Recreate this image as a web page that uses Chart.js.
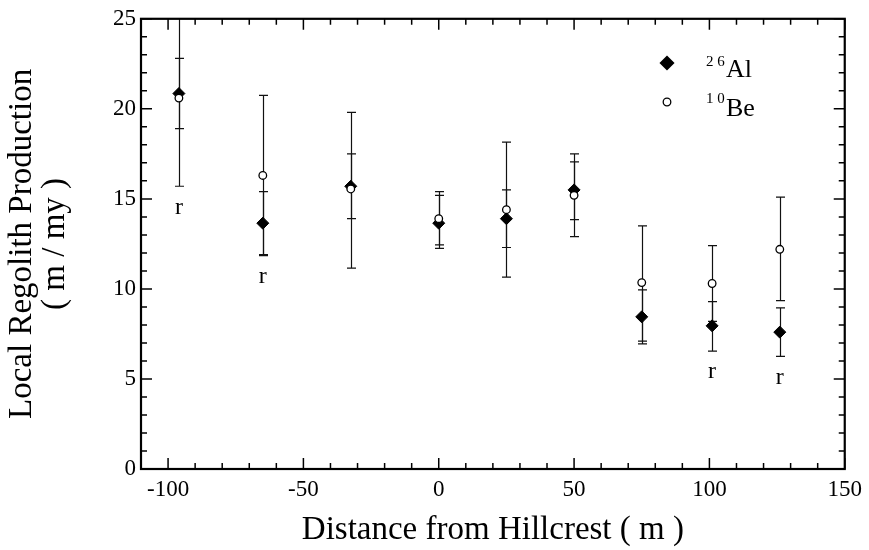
<!DOCTYPE html>
<html>
<head>
<meta charset="utf-8">
<script src="https://cdn.jsdelivr.net/npm/chart.js@4"></script>
<style>
  html, body { margin: 0; padding: 0; background: #fff; }
  canvas { display: block; background: #fff; }
</style>
</head>
<body>
<canvas id="chart" width="869" height="550"></canvas>
<script>
// distance from hillcrest (m)
var distance = [-96, -65, -32.5, 0, 25, 50, 75, 101, 126];

// 26Al production rate and error bar ends
var al26 = [20.85, 13.65, 15.7, 13.65, 13.9, 15.5, 8.45, 7.95, 7.6];
var al26Hi = [22.8, 15.4, 17.5, 15.2, 15.5, 17.05, 9.95, 9.3, 8.95];
var al26Lo = [18.9, 11.9, 13.9, 12.25, 12.3, 13.85, 6.95, 6.55, 6.25];

// 10Be production rate and error bar ends
var be10 = [20.6, 16.3, 15.55, 13.9, 14.4, 15.2, 10.35, 10.3, 12.2];
var be10Hi = [25.5, 20.75, 19.8, 15.4, 18.15, 17.5, 13.5, 12.4, 15.1];
var be10Lo = [15.7, 11.85, 11.15, 12.45, 10.65, 12.9, 7.1, 8.2, 9.35];

// sample notes printed under the bars
var remarks = ['r', 'r', '', '', '', '', '', 'r', 'r'];

var xTicks = [-100, -50, 0, 50, 100, 150];
var yTicks = [0, 5, 10, 15, 20, 25];

var serif = '"Liberation Serif", "DejaVu Serif", serif';

function toPoints(xs, ys) {
    return xs.map(function (v, i) { return { x: v, y: ys[i] }; });
}

// error bars, drawn under the markers
var errorBars = {
    id: 'errorBars',
    beforeDatasetsDraw: function (chart) {
        var ctx = chart.ctx, a = chart.chartArea;
        var x = chart.scales.x, y = chart.scales.y;
        var sets = [[al26Hi, al26Lo], [be10Hi, be10Lo]];
        ctx.save();
        ctx.beginPath();
        ctx.rect(a.left, a.top, a.right - a.left, a.bottom - a.top);
        ctx.clip();
        ctx.strokeStyle = '#111';
        ctx.lineWidth = 1.2;
        sets.forEach(function (s) {
            distance.forEach(function (d, i) {
                var px = Math.round(x.getPixelForValue(d)) + 0.5;
                var top = y.getPixelForValue(s[0][i]);
                var bot = y.getPixelForValue(s[1][i]);
                ctx.beginPath();
                ctx.moveTo(px, top);
                ctx.lineTo(px, bot);
                ctx.moveTo(px - 4.5, top);
                ctx.lineTo(px + 4.5, top);
                ctx.moveTo(px - 4.5, bot);
                ctx.lineTo(px + 4.5, bot);
                ctx.stroke();
            });
        });
        ctx.restore();
    }
};

// box, inward ticks, notes and legend
var frame = {
    id: 'frame',
    afterDraw: function (chart) {
        var ctx = chart.ctx, a = chart.chartArea;
        var x = chart.scales.x, y = chart.scales.y;
        ctx.save();
        ctx.strokeStyle = '#000';
        ctx.lineWidth = 1.5;
        ctx.beginPath();
        for (var v = -100; v <= 150; v += 10) {
            var px = x.getPixelForValue(v);
            var len = v % 50 === 0 ? 11 : 6;
            ctx.moveTo(px, a.bottom);
            ctx.lineTo(px, a.bottom - len);
            ctx.moveTo(px, a.top);
            ctx.lineTo(px, a.top + len);
        }
        for (var w = 0; w <= 25; w += 1) {
            var py = y.getPixelForValue(w);
            var l = w % 5 === 0 ? 11 : 6;
            ctx.moveTo(a.left, py);
            ctx.lineTo(a.left + l, py);
            ctx.moveTo(a.right, py);
            ctx.lineTo(a.right - l, py);
        }
        ctx.stroke();
        ctx.lineWidth = 2.2;
        ctx.strokeRect(a.left, a.top, a.right - a.left, a.bottom - a.top);

        // remarks
        ctx.fillStyle = '#000';
        ctx.font = '24px ' + serif;
        ctx.textAlign = 'center';
        ctx.textBaseline = 'middle';
        remarks.forEach(function (r, i) {
            if (!r) return;
            var low = Math.min(al26Lo[i], be10Lo[i]);
            ctx.fillText(r, x.getPixelForValue(distance[i]), y.getPixelForValue(low) + 21);
        });

        // legend
        Chart.helpers.drawPoint(ctx, { pointStyle: 'rectRot', radius: 6, borderWidth: 1 }, 667, 63);
        ctx.fillStyle = '#000';
        ctx.fill();
        ctx.fillStyle = '#fff';
        ctx.strokeStyle = '#000';
        ctx.lineWidth = 1.3;
        Chart.helpers.drawPoint(ctx, { pointStyle: 'circle', radius: 3.8, borderWidth: 1.3 }, 667, 102);
        ctx.fillStyle = '#000';
        ctx.textAlign = 'left';
        ctx.textBaseline = 'alphabetic';
        ctx.font = '15px ' + serif;
        ctx.fillText('2 6', 706, 66);
        ctx.fillText('1 0', 706, 103);
        ctx.font = '26px ' + serif;
        ctx.fillText('Al', 726, 77);
        ctx.fillText('Be', 726, 116);
        ctx.restore();
    }
};

new Chart(document.getElementById('chart'), {
    type: 'scatter',
    data: {
        datasets: [{
            label: '26Al',
            data: toPoints(distance, al26),
            pointStyle: 'rectRot',
            pointRadius: 6,
            backgroundColor: '#000',
            borderColor: '#000',
            borderWidth: 1,
            order: 1
        }, {
            label: '10Be',
            data: toPoints(distance, be10),
            pointStyle: 'circle',
            pointRadius: 3.8,
            backgroundColor: '#fff',
            borderColor: '#000',
            borderWidth: 1.3,
            order: 0
        }]
    },
    options: {
        responsive: false,
        animation: false,
        layout: { padding: { top: 18, right: 22, left: 0, bottom: 0 } },
        plugins: {
            legend: { display: false },
            tooltip: { enabled: false }
        },
        scales: {
            x: {
                type: 'linear',
                min: -110,
                max: 150,
                afterBuildTicks: function (axis) {
                    axis.ticks = xTicks.map(function (v) { return { value: v }; });
                },
                afterFit: function (scale) { scale.height = 81; },
                ticks: {
                    color: '#000',
                    font: { family: serif, size: 23 },
                    padding: 7,
                    maxRotation: 0
                },
                grid: { display: false, drawTicks: false },
                border: { display: false },
                title: {
                    display: true,
                    text: 'Distance from Hillcrest ( m )',
                    color: '#000',
                    font: { family: serif, size: 33, lineHeight: 1.0 },
                    padding: { top: 0, bottom: 3 }
                }
            },
            y: {
                min: 0,
                max: 25,
                afterBuildTicks: function (axis) {
                    axis.ticks = yTicks.map(function (v) { return { value: v }; });
                },
                afterFit: function (scale) { scale.width = 141; },
                ticks: {
                    color: '#000',
                    font: { family: serif, size: 23 },
                    padding: 5
                },
                grid: { display: false, drawTicks: false },
                border: { display: false },
                title: {
                    display: true,
                    text: ['Local Regolith Production', '( m / my )'],
                    color: '#000',
                    font: { family: serif, size: 33, lineHeight: 1.0 },
                    padding: { top: 6, bottom: 0 }
                }
            }
        }
    },
    plugins: [errorBars, frame]
});
</script>
</body>
</html>
